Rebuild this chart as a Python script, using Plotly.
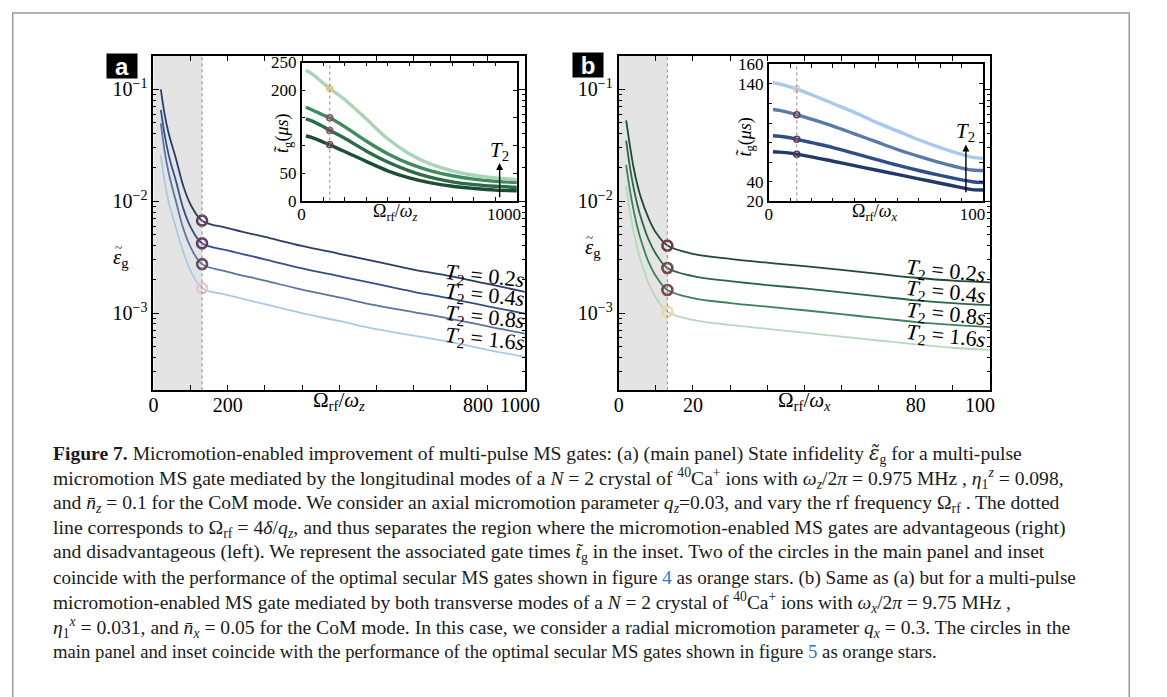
import plotly.graph_objects as go

W, H = 1167, 697
SERIF = "Liberation Serif"
NB = "\u00a0"

# ---------------- data ----------------
# Panel (a), main: infidelity vs Omega_rf/omega_z
xa = [20, 30, 40, 50, 60, 80, 100, 131, 200, 300, 400, 500, 600, 700, 800, 900, 1000]
ea_02 = [0.1, 0.0603, 0.0417, 0.0316, 0.0245, 0.0138, 0.00933, 0.0067, 0.00575, 0.00479,
         0.00398, 0.00339, 0.00288, 0.00245, 0.00214, 0.00182, 0.00155]
ea_04 = [0.0656, 0.0398, 0.0269, 0.0200, 0.0155, 0.0087, 0.00589, 0.0042, 0.00363, 0.00302,
         0.00251, 0.00214, 0.00182, 0.00155, 0.00135, 0.00115, 0.00099]
ea_08 = [0.0497, 0.0282, 0.0186, 0.0135, 0.0102, 0.00575, 0.00389, 0.00274, 0.00234, 0.00195,
         0.00162, 0.00138, 0.00117, 0.00102, 0.00089, 0.00076, 0.000656]
ea_16 = [0.0258, 0.0151, 0.0102, 0.00759, 0.00589, 0.00355, 0.0024, 0.00167, 0.00145, 0.0012,
         0.001, 0.00085, 0.00072, 0.00063, 0.00055, 0.00047, 0.000406]
xa_cut = 131
ea_circ = [0.0067, 0.0042, 0.00274, 0.00167]

# Panel (a), inset: gate time (us)
xia = [20, 50, 100, 131, 200, 300, 400, 500, 600, 700, 800, 900, 1000]
ta_16 = [236, 229, 213, 203, 183, 148, 112, 85, 66, 54, 46, 41, 38]
ta_08 = [169, 164, 155, 150, 134, 108, 85, 67, 54, 45, 39, 35, 33]
ta_04 = [148, 144, 134, 127, 113, 90, 70, 54, 42, 34, 29, 26, 24]
ta_02 = [117, 114, 106, 101, 89, 71, 54, 41, 32, 26, 22, 19, 18]
ta_circ = [203, 150, 127, 101]

# Panel (b), main: infidelity vs Omega_rf/omega_x
xb = [2, 3, 4, 5, 6, 8, 10, 13.1, 20, 30, 40, 50, 60, 70, 80, 90, 100]
eb_02 = [0.0527, 0.0316, 0.0200, 0.0141, 0.0107, 0.00708, 0.00525, 0.00401, 0.00339, 0.00305,
         0.00282, 0.00263, 0.00243, 0.00224, 0.00207, 0.00195, 0.00188]
eb_04 = [0.0348, 0.0204, 0.0132, 0.00933, 0.00708, 0.00457, 0.00339, 0.00253, 0.00214, 0.00193,
         0.00178, 0.00166, 0.00153, 0.00141, 0.0013, 0.00123, 0.00118]
eb_08 = [0.0211, 0.0126, 0.00832, 0.00589, 0.00447, 0.00288, 0.00214, 0.00161, 0.00136, 0.00123,
         0.00114, 0.00106, 0.000977, 0.000902, 0.000832, 0.000785, 0.00075]
eb_16 = [0.0136, 0.00813, 0.00537, 0.0038, 0.00288, 0.00186, 0.00138, 0.00103, 0.00087, 0.000785,
         0.000724, 0.000668, 0.000617, 0.000569, 0.000525, 0.00049, 0.00047]
xb_cut = 13.1
eb_circ = [0.00401, 0.00253, 0.00161, 0.00103]

# Panel (b), inset: gate time (us)
xib = [2, 5, 10, 13.1, 20, 30, 40, 50, 60, 70, 80, 90, 95, 100]
tb_16 = [141.4, 140, 137, 134.8, 129, 120, 111, 101, 92, 83, 75, 68, 65, 64]
tb_08 = [113.9, 113, 110.5, 108.6, 104, 97, 89, 81, 73, 66, 59.5, 54, 52, 51.5]
tb_04 = [87, 86.5, 85, 83.4, 80, 75, 69, 63, 57, 51.5, 46.5, 42, 40, 39.3]
tb_02 = [70.7, 70.3, 69.3, 68.2, 65.5, 61, 56.5, 52, 47.5, 43, 38.5, 34, 32, 31.6]
tb_circ = [134.8, 108.6, 83.4, 68.2]

T2_labels = ["0.2", "0.4", "0.8", "1.6"]

# tick labels
xa_ticks = list(range(0, 1001, 100))
xa_ticktext = ["0", "", "200", "", "", "", "", "", NB * 11 + "800", "", "1000" + NB * 2]
xb_ticks = list(range(0, 101, 10))
xb_ticktext = ["0", "", "20", "", "", "", "", "", "80", "", "100" + NB * 4]
y_major = [1e-3, 1e-2, 1e-1]
y_major_text = ["10<sup>−3</sup>", "10<sup>−2</sup>", "10<sup>−1</sup>"]
y_minor = [m * 10.0 ** e for e in (-4, -3, -2, -1) for m in range(2, 10)]
ia_yticks = [0, 50, 100, 150, 200, 250]
ia_ytext = ["0", "50", "", "", "200", "250"]
ia_xticks = list(range(0, 1001, 100))
ia_xtext = ["0"] + [""] * 9 + ["1000" + NB * 6]
ib_yticks = list(range(20, 161, 20))
ib_ytext = ["20", "40", "", "", "", "", "140", "160"]
ib_xticks = list(range(0, 101, 10))
ib_xtext = ["0"] + [""] * 9 + ["100" + NB * 5]

# ---------------- styles ----------------
blues_main = ["#2b3d68", "#34508a", "#5a74a3", "#a9c9ec"]
greens_inset = ["#1d4d33", "#2b6b48", "#3f8a5e", "#aad4b4"]
greens_main = ["#1f4a34", "#2a6545", "#3f7f5a", "#b6d9be"]
blues_inset = ["#213868", "#2e4d8a", "#5a7aa8", "#a8c9ef"]
circ_a = ["#5f3f5d", "#5f3f5d", "#6a4a66", "#efc7c9"]
circ_b = ["#6e3c3f", "#7a4648", "#7e4a4c", "#f2d6a6"]
circ_ia = ["#f3c273", "#8e4a5a", "#8e4a5a", "#7a3e4e"]
circ_ib = ["#f5c6c8", "#6a3557", "#6a3557", "#5a2c4c"]

fig = go.Figure()

def px_x(v):
    return v / W

def px_y(v):
    return 1 - v / H

# main a
for ys, c in zip([ea_02, ea_04, ea_08, ea_16], blues_main):
    fig.add_trace(go.Scatter(x=xa, y=ys, mode="lines", line=dict(color=c, width=1.8, shape="spline"),
                             xaxis="x", yaxis="y", showlegend=False, hoverinfo="skip"))
fig.add_trace(go.Scatter(x=[xa_cut] * 4, y=ea_circ, mode="markers",
                         marker=dict(symbol="circle-open", size=10, color=circ_a, line=dict(width=2.6, color=circ_a)),
                         xaxis="x", yaxis="y", showlegend=False))
# inset a
for ys, c in zip([ta_02, ta_04, ta_08, ta_16], greens_inset):
    fig.add_trace(go.Scatter(x=xia, y=ys, mode="lines", line=dict(color=c, width=3.4, shape="spline"),
                             xaxis="x2", yaxis="y2", showlegend=False))
fig.add_trace(go.Scatter(x=[xa_cut] * 4, y=ta_circ, mode="markers",
                         marker=dict(symbol="circle-open", size=6, color=circ_ia, line=dict(width=1.5, color=circ_ia)),
                         xaxis="x2", yaxis="y2", showlegend=False))
# main b
for ys, c in zip([eb_02, eb_04, eb_08, eb_16], greens_main):
    fig.add_trace(go.Scatter(x=xb, y=ys, mode="lines", line=dict(color=c, width=1.8, shape="spline"),
                             xaxis="x3", yaxis="y3", showlegend=False))
fig.add_trace(go.Scatter(x=[xb_cut] * 4, y=eb_circ, mode="markers",
                         marker=dict(symbol="circle-open", size=10, color=circ_b, line=dict(width=2.6, color=circ_b)),
                         xaxis="x3", yaxis="y3", showlegend=False))
# inset b
for ys, c in zip([tb_02, tb_04, tb_08, tb_16], blues_inset):
    fig.add_trace(go.Scatter(x=xib, y=ys, mode="lines", line=dict(color=c, width=3.4, shape="spline"),
                             xaxis="x4", yaxis="y4", showlegend=False))
fig.add_trace(go.Scatter(x=[xb_cut] * 4, y=tb_circ, mode="markers",
                         marker=dict(symbol="circle-open", size=6, color=circ_ib, line=dict(width=1.5, color=circ_ib)),
                         xaxis="x4", yaxis="y4", showlegend=False))

tickfont = dict(family=SERIF, size=20, color="black")
insetfont = dict(family=SERIF, size=17, color="black")

def main_x(dom, rng, tv, tt, anchor):
    return dict(domain=dom, range=rng, anchor=anchor, showline=True, linewidth=2, linecolor="black",
                mirror="ticks", ticks="inside", ticklen=5, tickwidth=1, tickcolor="black",
                tickmode="array", tickvals=tv, ticktext=tt, tickfont=tickfont, showgrid=False,
                zeroline=False, ticklabelstandoff=-4)

def main_y(dom, anchor):
    return dict(domain=dom, type="log", range=[-3.69, -0.70], anchor=anchor, showline=True, linewidth=2,
                linecolor="black", mirror="ticks", ticks="inside", ticklen=6, tickwidth=1, tickcolor="black",
                tickmode="array", tickvals=y_major, ticktext=y_major_text, tickfont=tickfont,
                showgrid=False, zeroline=False,
                minor=dict(ticks="inside", ticklen=3, tickcolor="black", tickmode="array", tickvals=y_minor,
                           showgrid=False))

def inset_ax(dom, rng, tv, tt, anchor, standoff=0):
    return dict(domain=dom, range=rng, anchor=anchor, showline=True, linewidth=1.5, linecolor="black",
                mirror="ticks", ticks="inside", ticklen=4, tickwidth=1, tickcolor="black",
                tickmode="array", tickvals=tv, ticktext=tt, tickfont=insetfont, showgrid=False,
                zeroline=False, ticklabelstandoff=standoff)

fig.update_layout(
    width=W, height=H, margin=dict(l=0, r=0, t=0, b=0),
    paper_bgcolor="white", plot_bgcolor="rgba(0,0,0,0)",
    xaxis=main_x([px_x(153), px_x(536)], [0, 1000], xa_ticks, xa_ticktext, "y"),
    yaxis=main_y([px_y(392), px_y(48)], "x"),
    xaxis2=inset_ax([px_x(305.7), px_x(527.7)], [0, 1000], ia_xticks, ia_xtext, "y2", -3),
    yaxis2=inset_ax([px_y(197), px_y(55)], [0, 250], ia_yticks, ia_ytext, "x2"),
    xaxis3=main_x([px_x(632.7), px_x(1015.5)], [0, 100], xb_ticks, xb_ticktext, "y3"),
    yaxis3=main_y([px_y(392), px_y(48)], "x3"),
    xaxis4=inset_ax([px_x(787.3), px_x(1008.3)], [0, 100], ib_xticks, ib_xtext, "y4", -3),
    yaxis4=inset_ax([px_y(197.7), px_y(57)], [20, 160], ib_yticks, ib_ytext, "x4"),
)

shapes = []
# outer frame
shapes.append(dict(type="rect", xref="paper", yref="paper", x0=px_x(8), x1=px_x(1159), y0=-0.02, y1=px_y(4),
                   line=dict(color="#9a9a9a", width=1.5), fillcolor="rgba(0,0,0,0)"))
# shaded regions + dotted lines
for xr, yr, cut in [("x", "y", xa_cut), ("x3", "y3", xb_cut)]:
    shapes.append(dict(type="rect", xref=xr, yref=yr + " domain", x0=0, x1=cut, y0=0, y1=1,
                       fillcolor="#e4e4e4", line=dict(width=0), layer="below"))
    shapes.append(dict(type="line", xref=xr, yref=yr + " domain", x0=cut, x1=cut, y0=0, y1=1,
                       line=dict(color="#8a8a8a", width=1, dash="dot")))
for xr, yr, cut in [("x2", "y2", xa_cut), ("x4", "y4", xb_cut)]:
    shapes.append(dict(type="line", xref=xr, yref=yr + " domain", x0=cut, x1=cut, y0=0, y1=1,
                       line=dict(color="#8a8a8a", width=1, dash="dot")))
fig.update_layout(shapes=shapes)

TIL = "<span style=\"font-family:'DejaVu Serif'\">%s</span>"
ann = []
# panel letters
for lab, cx, cy in [("a", 121, 58.5), ("b", 601.5, 57.5)]:
    ann.append(dict(text="<b>" + lab + "</b>", x=px_x(cx), y=px_y(cy), xref="paper", yref="paper",
                    showarrow=False, bgcolor="black", width=30, height=24, borderpad=0,
                    font=dict(family="Liberation Sans", size=24, color="white"), xanchor="center", yanchor="middle"))
# axis titles (main)
for cx, sub in [(344, "z"), (824, "x")]:
    ann.append(dict(text="Ω<sub>rf</sub>/<i>ω<sub>" + sub + "</sub></i>", x=px_x(cx), y=px_y(403),
                    xref="paper", yref="paper", showarrow=False, font=dict(family=SERIF, size=21, color="black"),
                    xanchor="center", yanchor="middle"))
for cx, cy in [(120, 256), (606, 246)]:
    ann.append(dict(text="<i>ε</i><sub>g</sub>", x=px_x(cx), y=px_y(cy), xref="paper", yref="paper",
                    showarrow=False, font=dict(family=SERIF, size=21, color="black"),
                    xanchor="center", yanchor="middle"))
    ann.append(dict(text="~", x=px_x(cx - 3), y=px_y(cy - 11), xref="paper", yref="paper",
                    showarrow=False, font=dict(family=SERIF, size=13, color="black"),
                    xanchor="center", yanchor="middle"))
# inset titles
for cx, sub in [(403, "z"), (897, "x")]:
    ann.append(dict(text="Ω<sub>rf</sub>/<i>ω<sub>" + sub + "</sub></i>", x=px_x(cx), y=px_y(209),
                    xref="paper", yref="paper", showarrow=False, font=dict(family=SERIF, size=18, color="black"),
                    xanchor="center", yanchor="middle"))
for cx, cy in [(287, 128), (764, 132)]:
    ann.append(dict(text="<i>t̃</i><sub>g</sub>(<i>μs</i>)", x=px_x(cx), y=px_y(cy), xref="paper", yref="paper",
                    showarrow=False, textangle=-90, font=dict(family=SERIF, size=18, color="black"),
                    xanchor="center", yanchor="middle"))
# T2 arrows in insets
for xr, yr, xv, y0, y1, yl in [("x2", "y2", 920, 3.5, 68, 89), ("x4", "y4", 92, 27.7, 78, 91)]:
    ann.append(dict(x=xv, y=y1, ax=xv, ay=y0, xref=xr, yref=yr, axref=xr, ayref=yr, text="",
                    showarrow=True, arrowhead=2, arrowsize=1, arrowwidth=1.4, arrowcolor="black"))
    ann.append(dict(x=xv, y=yl, xref=xr, yref=yr, text="<i>T</i><sub>2</sub>", showarrow=False,
                    font=dict(family=SERIF, size=21, color="black"), xanchor="center", yanchor="middle"))
# T2 labels in main panels
for cx, ys in [(494, [275, 295, 318, 340]), (970, [270, 292, 315, 337])]:
    for lab, cy in zip(T2_labels, ys):
        ann.append(dict(text="<i>T</i><sub>2</sub> = " + lab + "<i>s</i>", x=px_x(cx), y=px_y(cy),
                        xref="paper", yref="paper", showarrow=False, textangle=6,
                        font=dict(family=SERIF, size=22, color="black"), xanchor="center", yanchor="middle"))

LINK = "<span style='color:#2a7bc0'>%s</span>"
caption = [
    "<b>Figure 7.</b> Micromotion-enabled improvement of multi-pulse MS gates: (a) (main panel) State infidelity <i>" + TIL % "ε̃" + "</i><sub>g</sub> for a multi-pulse",
    "micromotion MS gate mediated by the longitudinal modes of a <i>N</i> = 2 crystal of <sup>40</sup>Ca<sup>+</sup> ions with <i>ω</i><sub><i>z</i></sub>/2<i>π</i> = 0.975 MHz , <i>η</i><sub>1</sub><sup><i>z</i></sup> = 0.098,",
    "and <i>n̄</i><sub><i>z</i></sub> = 0.1 for the CoM mode. We consider an axial micromotion parameter <i>q</i><sub><i>z</i></sub>=0.03, and vary the rf frequency Ω<sub>rf</sub> . The dotted",
    "line corresponds to Ω<sub>rf</sub> = 4<i>δ</i>/<i>q</i><sub><i>z</i></sub>, and thus separates the region where the micromotion-enabled MS gates are advantageous (right)",
    "and disadvantageous (left). We represent the associated gate times <i>t̃</i><sub>g</sub> in the inset. Two of the circles in the main panel and inset",
    "coincide with the performance of the optimal secular MS gates shown in figure " + LINK % "4" + " as orange stars. (b) Same as (a) but for a multi-pulse",
    "micromotion-enabled MS gate mediated by both transverse modes of a <i>N</i> = 2 crystal of <sup>40</sup>Ca<sup>+</sup> ions with <i>ω</i><sub><i>x</i></sub>/2<i>π</i> = 9.75 MHz ,",
    "<i>η</i><sub>1</sub><sup><i>x</i></sup> = 0.031, and <i>n̄</i><sub><i>x</i></sub> = 0.05 for the CoM mode. In this case, we consider a radial micromotion parameter <i>q</i><sub><i>x</i></sub> = 0.3. The circles in the",
    "main panel and inset coincide with the performance of the optimal secular MS gates shown in figure " + LINK % "5" + " as orange stars.",
]
cap_y = [457.5, 483.0, 508.4, 533.9, 559.3, 584.7, 610.1, 635.6, 661]
cap_size = [19.6, 19.6, 19.6, 19.8, 19.6, 19.1, 19.4, 19.6, 18.7]
for line, cy, fs in zip(caption, cap_y, cap_size):
    ann.append(dict(text=line, x=px_x(47), y=px_y(cy), xref="paper", yref="paper", showarrow=False,
                    xanchor="left", yanchor="middle", align="left",
                    font=dict(family=SERIF, size=fs, color="#1a1a1a")))

fig.update_layout(annotations=ann)
fig.write_html("out.html")
